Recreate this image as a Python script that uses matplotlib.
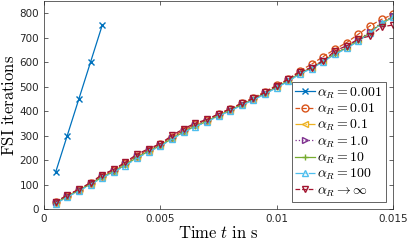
import matplotlib.pyplot as plt
import numpy as np

plt.rcParams['mathtext.fontset'] = 'cm'

# time steps
t = np.arange(1, 31) * 0.0005
t_short = t[:5]

# FSI iterations per relaxation parameter
it_0001 = [150, 300, 450, 600, 750]
it_001 = [27, 55, 80, 106, 136, 160, 188, 218, 243, 265, 295, 322, 346, 364, 388,
          410, 433, 455, 480, 506, 531, 565, 592, 623, 653, 680, 714, 748, 775, 795]
it_01 = [26, 53, 78, 104, 133, 156, 184, 214, 239, 262, 291, 318, 342, 360, 384,
         405, 428, 450, 474, 500, 526, 556, 578, 606, 636, 660, 690, 722, 760, 785]
it_1 = [27, 54, 79, 105, 134, 157, 185, 215, 240, 263, 292, 319, 343, 361, 385,
        406, 429, 451, 475, 501, 527, 557, 579, 607, 637, 661, 691, 723, 762, 787]
it_10 = [24, 51, 76, 102, 130, 153, 181, 211, 236, 259, 288, 315, 339, 358, 382,
         403, 426, 448, 472, 498, 524, 554, 576, 604, 634, 658, 688, 720, 759, 784]
it_100 = [22, 49, 74, 100, 128, 151, 178, 208, 234, 257, 286, 313, 337, 356, 380,
          401, 424, 446, 470, 496, 522, 552, 574, 602, 632, 656, 686, 718, 758, 783]
it_inf = [30, 57, 81, 108, 141, 162, 192, 224, 247, 267, 301, 328, 351, 366, 389,
          409, 432, 452, 477, 504, 531, 561, 578, 606, 646, 667, 694, 707, 744, 752]

fig = plt.figure(figsize=(4.07, 2.42), dpi=100)
ax = fig.add_axes([0.108, 0.136, 0.858, 0.86])

ms = 5
ax.plot(t_short, it_0001, '-x', color='#0072BD', ms=ms, lw=0.9, label=r'$\alpha_R = 0.001$')
ax.plot(t, it_001, '--o', color='#D95319', ms=ms, lw=0.9, mfc='none', label=r'$\alpha_R = 0.01$')
ax.plot(t, it_01, '-.<', color='#EDB120', ms=ms, lw=0.9, mfc='none', label=r'$\alpha_R = 0.1$')
ax.plot(t, it_1, ':>', color='#7E2F8E', ms=ms, lw=0.9, mfc='none', label=r'$\alpha_R = 1.0$')
ax.plot(t, it_10, '-+', color='#77AC30', ms=ms, lw=0.9, label=r'$\alpha_R = 10$')
ax.plot(t, it_100, '-.^', color='#4DBEEE', ms=ms, lw=0.9, mfc='none', label=r'$\alpha_R = 100$')
ax.plot(t, it_inf, '--v', color='#A2142F', ms=ms, lw=0.9, mfc='none', label=r'$\alpha_R \to \infty$')

ax.set_xlim(0, 0.015)
ax.set_ylim(0, 850)
ax.set_xticks([0, 0.005, 0.01, 0.015])
ax.set_xticklabels(['0', '0.005', '0.01', '0.015'])
ax.set_yticks(range(0, 801, 100))
ax.tick_params(direction='in', top=True, right=True, labelsize=7.5,
               colors='#262626', length=3, width=0.5)
for s in ax.spines.values():
    s.set_color('#262626')
    s.set_linewidth(0.5)

ax.set_xlabel(r'$\mathrm{Time}\ t\ \mathrm{in\ s}$', fontsize=12, labelpad=0)
ax.set_ylabel(r'$\mathrm{FSI\ iterations}$', fontsize=12, labelpad=1)

leg = ax.legend(loc='lower right', fontsize=10, handlelength=1.4, handletextpad=0.2,
                borderpad=0.25, labelspacing=0.07, fancybox=False, framealpha=1,
                borderaxespad=0.5)
leg.get_frame().set_edgecolor('#262626')
leg.get_frame().set_linewidth(0.5)

fig.savefig('out.png', dpi=100)
